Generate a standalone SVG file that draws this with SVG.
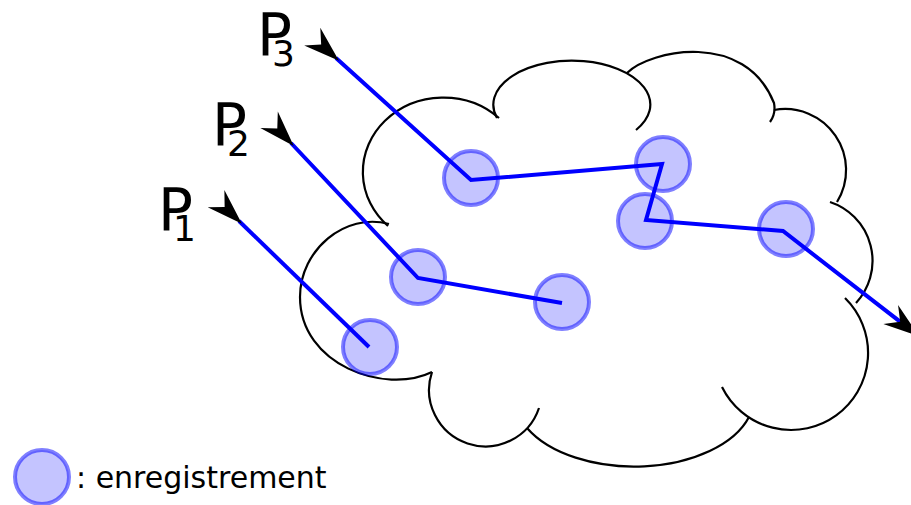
<svg xmlns="http://www.w3.org/2000/svg" width="911" height="505" viewBox="0 0 911 505">
  <style>
    .cloud { fill: none; stroke: #000; stroke-width: 2.2; }
    .rec { fill: #0000ff; fill-opacity: 0.23; stroke: #0000ff; stroke-opacity: 0.5; stroke-width: 4; }
    .path { fill: none; stroke: #0000ff; stroke-width: 4; stroke-linejoin: miter; marker-start: url(#arr); }
    .lbl { font-family: "DejaVu Sans", sans-serif; fill: #000; }
  </style>
  <defs>
    <marker id="arr" markerUnits="userSpaceOnUse" markerWidth="50" markerHeight="40" viewBox="-45 -20 50 40" refX="-4" refY="0" orient="auto" overflow="visible">
      <path d="M0,0 L-36,-12 L-24,0 L-36,12 Z" fill="#000"/>
    </marker>
  </defs>

  <g id="cloud">
    <path class="cloud" d="M388,226 A78,72 0 1 1 499,118"/>
    <path class="cloud" d="M497,118 A78.5,44 0 1 1 636,130"/>
    <path class="cloud" d="M627,73 C650,50 745,30 774,103 Q776,114 770,122"/>
    <path class="cloud" d="M774,110 A61,61 0 0 1 837,202"/>
    <path class="cloud" d="M830,202 A62,62 0 0 1 856,303"/>
    <path class="cloud" d="M845,298 A77,77 0 1 1 722,387"/>
    <path class="cloud" d="M749,417 A120,70 0 0 1 527,428"/>
    <path class="cloud" d="M539,408 A56,56 0 0 1 432,372"/>
    <path class="cloud" d="M432,372 C385,395 300,365 300,297 C300,250 345,212 389,224"/>
  </g>

  <g id="records">
    <circle id="r1" class="rec" cx="370" cy="347" r="27"/>
    <circle id="r2" class="rec" cx="418" cy="277" r="27"/>
    <circle id="r3" class="rec" cx="562" cy="302" r="27"/>
    <circle id="r4" class="rec" cx="471" cy="178" r="27"/>
    <circle id="r5" class="rec" cx="663" cy="164" r="27"/>
    <circle id="r6" class="rec" cx="645" cy="221" r="27"/>
    <circle id="r7" class="rec" cx="786" cy="229" r="27"/>
  </g>

  <g id="connectors">
    <path id="path1" class="path" d="M239,221 L369,347"/>
    <path id="path2" class="path" d="M291,143 L418,278 L562,303"/>
    <path id="path3" class="path" d="M336,58 L471,180 L662,164 L646,220 L783,231 L916,334" style="marker-end:url(#arr)"/>
  </g>

  <g id="label-p1">
    <text class="lbl" x="158" y="230" font-size="58">P<tspan dx="-20" dy="11" font-size="36">1</tspan></text>
  </g>
  <g id="label-p2">
    <text class="lbl" x="212" y="145" font-size="58">P<tspan dx="-20" dy="11" font-size="36">2</tspan></text>
  </g>
  <g id="label-p3">
    <text class="lbl" x="257" y="55" font-size="58">P<tspan dx="-20" dy="11" font-size="36">3</tspan></text>
  </g>

  <g id="legend">
    <circle class="rec" cx="42" cy="477" r="27"/>
    <text class="lbl" x="76" y="488" font-size="30">: enregistrement</text>
  </g>
</svg>
